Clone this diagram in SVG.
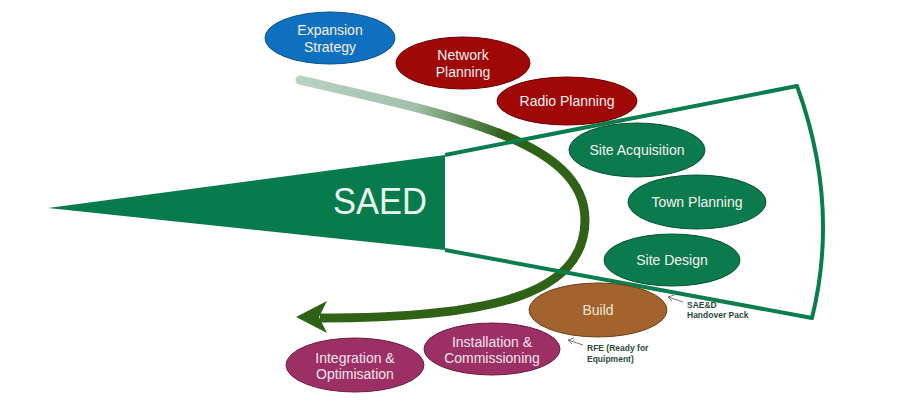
<svg xmlns="http://www.w3.org/2000/svg" width="900" height="407" viewBox="0 0 900 407">
<style>
.lbl{font-family:"Liberation Sans",Arial,sans-serif;font-size:14px;text-anchor:middle;fill:#f6f2f2}
.note{font-family:"Liberation Sans",Arial,sans-serif;font-size:8.5px;font-weight:bold;fill:#2c4a3c}
.blue{fill:#1070C0;stroke:#0b4f8a;stroke-width:1}
.red{fill:#A00808;stroke:#6b0000;stroke-width:1}
.grn{fill:#0B7A4C;stroke:#075232;stroke-width:1}
.brn{fill:#A2632E;stroke:#6d4018;stroke-width:1}
.pur{fill:#9C2F63;stroke:#6a1d42;stroke-width:1}
.fan{fill:none;stroke:#0A7D4E;stroke-width:4;stroke-linejoin:round}
.ann{fill:none;stroke:#777;stroke-width:1}
.flow{fill:none;stroke-width:9}
</style>
<defs>
<linearGradient id="arrowGrad" gradientUnits="userSpaceOnUse" x1="300" y1="80" x2="505" y2="137">
<stop offset="0" stop-color="#b9d2c1"/>
<stop offset="0.55" stop-color="#a2c0ab"/>
<stop offset="1" stop-color="#2f6117"/>
</linearGradient>
</defs>
<rect width="900" height="407" fill="#ffffff"/>

<g id="connectors">
<path class="flow" d="M300,80 C375,97.5 446.25,112.5 498.75,133.125" stroke="url(#arrowGrad)" stroke-linecap="round"/>
<path class="flow" d="M497,132.4 L498.75,133.125 C551.25,153.75 585,180 585,220 C585,295 490,318 320,318" stroke="#2f6117"/>
<polygon points="296,317 327,301 319,317 327,333" fill="#2f6117"/>
<path class="ann" d="M683,302 L668,297 M668,297 L674,295 M668,297 L672,301"/>
<path class="ann" d="M583,345 L568,340 M568,340 L574,338 M568,340 L572,344"/>
</g>

<g id="fan">
<path class="fan" d="M445,155 L797,86 Q840,204 812,318 L445,250"/>
</g>

<g id="saed">
<polygon points="48,208 445,155 445,250" fill="#077B4C"/>
<text x="333" y="214" font-family="Liberation Sans,Arial,sans-serif" font-size="37" fill="#eaf5ef" textLength="94" lengthAdjust="spacingAndGlyphs">SAED</text>
</g>

<g id="expansion-strategy">
<ellipse class="blue" cx="330" cy="38" rx="65" ry="26"/>
<text class="lbl" x="330" y="35">Expansion</text>
<text class="lbl" x="330" y="52">Strategy</text>
</g>

<g id="network-planning">
<ellipse class="red" cx="463" cy="63" rx="67" ry="26"/>
<text class="lbl" x="463" y="60">Network</text>
<text class="lbl" x="463" y="77">Planning</text>
</g>

<g id="radio-planning">
<ellipse class="red" cx="567" cy="101" rx="70" ry="24"/>
<text class="lbl" x="567" y="106">Radio Planning</text>
</g>

<g id="site-acquisition">
<ellipse class="grn" cx="637" cy="150" rx="68" ry="27"/>
<text class="lbl" x="637" y="155">Site Acquisition</text>
</g>

<g id="town-planning">
<ellipse class="grn" cx="697" cy="202" rx="69" ry="27"/>
<text class="lbl" x="697" y="207">Town Planning</text>
</g>

<g id="site-design">
<ellipse class="grn" cx="672" cy="260" rx="68" ry="26"/>
<text class="lbl" x="672" y="265">Site Design</text>
</g>

<g id="build">
<ellipse class="brn" cx="598" cy="310" rx="69" ry="27"/>
<text class="lbl" x="598" y="315" style="fill:#f3e6d2">Build</text>
</g>

<g id="installation-commissioning">
<ellipse class="pur" cx="492" cy="349" rx="68" ry="26"/>
<text class="lbl" x="492" y="347" style="fill:#f7e4ee">Installation &amp;</text>
<text class="lbl" x="492" y="363" style="fill:#f7e4ee">Commissioning</text>
</g>

<g id="integration-optimisation">
<ellipse class="pur" cx="355" cy="365" rx="69" ry="27"/>
<text class="lbl" x="355" y="363" style="fill:#f7e4ee">Integration &amp;</text>
<text class="lbl" x="355" y="379" style="fill:#f7e4ee">Optimisation</text>
</g>

<g id="handover-note">
<text class="note" x="687" y="308">SAE&amp;D</text>
<text class="note" x="687" y="318">Handover Pack</text>
</g>

<g id="rfe-note">
<text class="note" x="587" y="351">RFE (Ready for</text>
<text class="note" x="587" y="362">Equipment)</text>
</g>
</svg>
